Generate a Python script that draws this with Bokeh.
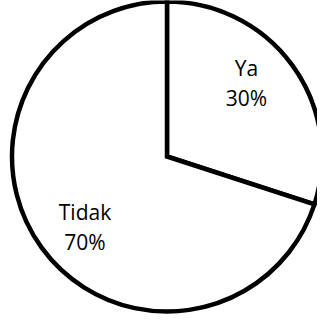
import math
from bokeh.plotting import figure
from bokeh.models import Range1d, ColumnDataSource
from bokeh.core.properties import value
from bokeh.embed import file_html
from bokeh.resources import INLINE

# data
categories = ["Ya", "Tidak"]
percents = [30, 70]

# layout (pixel-like data units)
W, H = 317, 317
CX, CY, R = 166.5, 161.0, 155.0
LABEL_POS = [(246.0, 235.0), (84.5, 90.5)]

# wedges: first slice starts at 12 o'clock, going clockwise
starts, ends = [], []
a = 90.0
for pct in percents:
    sweep = pct / 100 * 360
    starts.append(math.radians(a - sweep))
    ends.append(math.radians(a))
    a -= sweep

src = ColumnDataSource(dict(
    x=[CX] * len(categories), y=[CY] * len(categories),
    start=starts, end=ends,
    name=categories,
    pct=[f"{p}%" for p in percents],
    lx=[p[0] for p in LABEL_POS], ly=[p[1] for p in LABEL_POS],
))

p = figure(width=W, height=H, output_backend="svg", toolbar_location=None,
           x_range=Range1d(0, W), y_range=Range1d(0, H),
           min_border=0, outline_line_color=None)
p.axis.visible = False
p.grid.visible = False
p.background_fill_color = "white"
p.border_fill_color = "white"

p.wedge(x="x", y="y", radius=R, start_angle="start", end_angle="end",
        source=src, fill_color="white", line_color="black", line_width=4.5,
        line_join="miter")

p.text(x="lx", y="ly", text="name", source=src, y_offset=-15,
       text_font=value("Open Sans"), text_font_size="21px",
       text_align="center", text_baseline="middle", text_color="black")
p.text(x="lx", y="ly", text="pct", source=src, y_offset=15,
       text_font=value("Open Sans"), text_font_size="21px",
       text_align="center", text_baseline="middle", text_color="black")

open("out.html", "w").write(file_html(p, INLINE))
